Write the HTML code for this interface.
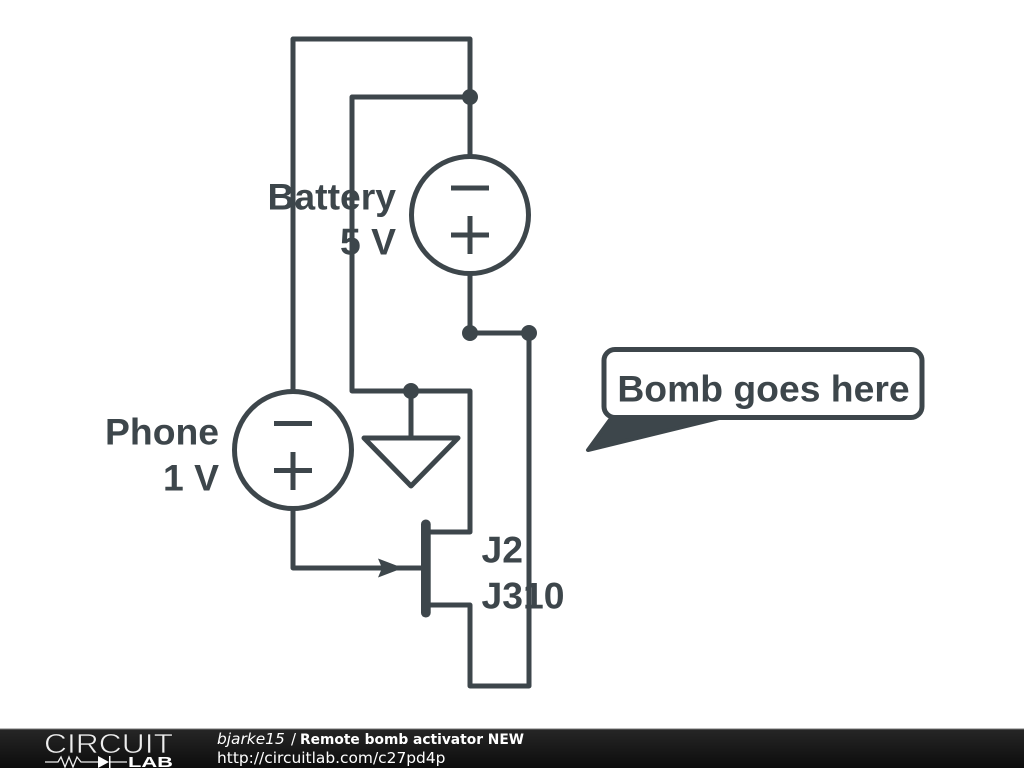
<!DOCTYPE html>
<html>
<head>
<meta charset="utf-8">
<style>
html,body{margin:0;padding:0;background:#fff;width:1024px;height:768px;overflow:hidden}
svg{display:block;position:absolute;left:0;top:0}
</style>
</head>
<body>
<svg width="1024" height="768" viewBox="0 0 1024 768" xmlns="http://www.w3.org/2000/svg">
<defs>
<linearGradient id="bar" x1="0" y1="0" x2="0" y2="1">
<stop offset="0" stop-color="#262626"/>
<stop offset="1" stop-color="#0c0c0c"/>
</linearGradient>
</defs>
<rect width="1024" height="768" fill="#fff"/>
<g fill="none" stroke="#3d464b" stroke-width="5" stroke-linejoin="round">
<path d="M293 391V39H470V156"/>
<path d="M470 97H352V391H470V532H427"/>
<path d="M470 274V333H529V686H470V605H427"/>
<path d="M411 391V438"/>
<path d="M293 509V568H425"/>
<circle cx="470" cy="215" r="58.5"/>
<circle cx="293" cy="450" r="58.5"/>
<path d="M451 188H489M451 235H489M470 216V254"/>
<path d="M274 423.500H312M274 470.500H312M293 452V490"/>
<path d="M364 438H458L411 486Z"/>
</g>
<g fill="#3d464b">
<circle cx="470" cy="97" r="8"/>
<circle cx="470" cy="333" r="8"/>
<circle cx="529" cy="333" r="8"/>
<circle cx="411" cy="391" r="8"/>
<path d="M378 558.500L403 568L378 577.500L382 568Z"/>
<rect x="421" y="519.500" width="9.700" height="98" rx="4.800"/>
</g>
<g font-family="'Liberation Sans',sans-serif" font-weight="700" font-size="37.300" fill="#3d464b">
<text x="396" y="209.500" text-anchor="end">Battery</text>
<text x="396" y="254.500" text-anchor="end">5 V</text>
<text x="219" y="444.500" text-anchor="end">Phone</text>
<text x="219" y="490.500" text-anchor="end">1 V</text>
<text x="481.500" y="562.500">J2</text>
<text x="481.500" y="608.500">J310</text>
</g>
<path d="M612 417L588 450L723 417Z" fill="#3d464b" stroke="#3d464b" stroke-width="4" stroke-linejoin="round"/>
<rect x="604" y="349.500" width="318" height="68" rx="11" fill="#fff" stroke="#3d464b" stroke-width="5"/>
<text x="763.500" y="401.500" text-anchor="middle" font-family="'Liberation Sans',sans-serif" font-weight="700" font-size="37.300" fill="#3d464b">Bomb goes here</text>
<rect x="0" y="729" width="1024" height="39" fill="url(#bar)"/>
<rect x="0" y="728.500" width="1024" height="1" fill="#777"/>
<text x="44" y="753" font-family="'Liberation Sans',sans-serif" font-size="28" textLength="129" lengthAdjust="spacingAndGlyphs" fill="#eee" stroke="#1d1d1d" stroke-width="0.700">CIRCUIT</text>
<path d="M45 762H58L61 757L65 767L69 757L73 767L77 757L81 762H98M110 762H127" fill="none" stroke="#eee" stroke-width="1.300"/>
<path d="M98 756V768L109 762Z" fill="#fff"/>
<rect x="109" y="756" width="1.500" height="12" fill="#fff"/>
<text x="128" y="767" font-family="'Liberation Sans',sans-serif" font-weight="700" font-size="15" textLength="45" lengthAdjust="spacingAndGlyphs" fill="#fff">LAB</text>
<text x="217" y="744" font-family="'DejaVu Sans',sans-serif" font-size="15.400" fill="#fff" font-style="italic">bjarke15</text>
<text x="291" y="744" font-family="'DejaVu Sans',sans-serif" font-size="15" fill="#fff">/</text>
<text x="300" y="744" font-family="'DejaVu Sans',sans-serif" font-size="13.800" font-weight="700" fill="#fff">Remote bomb activator NEW</text>
<text x="217" y="763" font-family="'DejaVu Sans',sans-serif" font-size="15.430" fill="#fff">http://circuitlab.com/c27pd4p</text>
</svg>
</body>
</html>
